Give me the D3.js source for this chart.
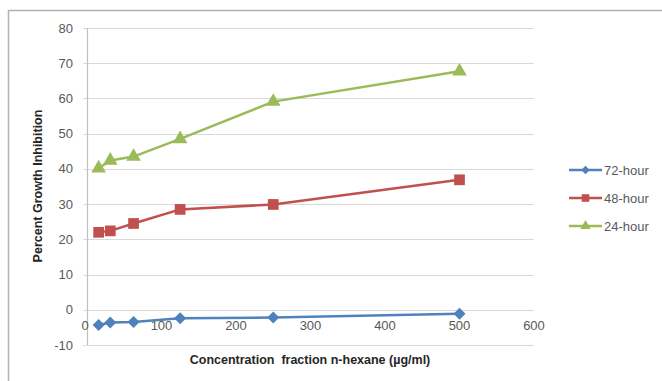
<!DOCTYPE html>
<html>
<head>
<meta charset="utf-8">
<script src="https://cdn.jsdelivr.net/npm/d3@7"></script>
<style>
  html, body { margin: 0; padding: 0; background: #fff; }
  svg { display: block; }
</style>
</head>
<body>
<script>
// ---- data ----
const concentrations = [15.625, 31.25, 62.5, 125, 250, 500];
const seriesNames = ["72-hour", "48-hour", "24-hour"];
const values72 = [-4.3, -3.6, -3.5, -2.4, -2.2, -1.1];
const values48 = [22.0, 22.4, 24.5, 28.5, 29.9, 36.9];
const values24 = [40.2, 42.4, 43.5, 48.5, 59.1, 67.7];
const xTicks = [0, 100, 200, 300, 400, 500, 600];
const yTicks = [-10, 0, 10, 20, 30, 40, 50, 60, 70, 80];

const W = 662, H = 381;
const svg = d3.select("body").append("svg").attr("width", W).attr("height", H);

// outer frame
svg.append("rect").attr("x", 8.5).attr("y", 10.5).attr("width", 700).attr("height", 400)
  .attr("fill", "none").attr("stroke", "#b3b3b3").attr("stroke-width", 1.5);

const x = d3.scaleLinear().domain([0, 600]).range([87, 534]);
const y = d3.scaleLinear().domain([-10, 80]).range([345, 28]);

const font = "'Liberation Sans', Arial, sans-serif";
const tickColor = "#595959";

// gridlines
svg.append("g").selectAll("line").data(yTicks).join("line")
  .attr("x1", 83).attr("x2", x(600))
  .attr("y1", d => Math.round(y(d)) + 0.5).attr("y2", d => Math.round(y(d)) + 0.5)
  .attr("stroke", "#d9d9d9").attr("stroke-width", 1.2);

// y axis line
svg.append("line").attr("x1", 87.5).attr("x2", 87.5).attr("y1", y(80)).attr("y2", y(-10))
  .attr("stroke", "#bfbfbf").attr("stroke-width", 1.2);

// y tick labels
svg.append("g").selectAll("text").data(yTicks).join("text")
  .attr("x", 73).attr("y", d => y(d)).attr("dy", "0.35em")
  .attr("text-anchor", "end").attr("font-family", font).attr("font-size", 13)
  .attr("fill", tickColor).text(d => d);

// x tick labels (axis crosses at 0, labels just below)
svg.append("g").selectAll("text").data(xTicks).join("text")
  .attr("x", d => d === 0 ? x(d) - 2 : x(d)).attr("y", y(0) + 20)
  .attr("text-anchor", "middle").attr("font-family", font).attr("font-size", 13)
  .attr("fill", tickColor).text(d => d);

// axis titles
svg.append("text").attr("x", 310).attr("y", 364).attr("text-anchor", "middle")
  .attr("font-family", font).attr("font-size", 12.5).attr("font-weight", "bold")
  .attr("fill", "#262626").text("Concentration  fraction n-hexane (\u00b5g/ml)")
  .style("white-space", "pre");

svg.append("text").attr("transform", "translate(42,186) rotate(-90)")
  .attr("text-anchor", "middle").attr("font-family", font).attr("font-size", 12.5)
  .attr("font-weight", "bold").attr("fill", "#262626").text("Percent Growth Inhibition");

// series (diamond = square rotated 45deg)
const series = [
  { name: seriesNames[0], values: values72, color: "#4f81bd", symbol: d3.symbolSquare, size: 72, rot: 45 },
  { name: seriesNames[1], values: values48, color: "#c0504d", symbol: d3.symbolSquare, size: 115, rot: 0 },
  { name: seriesNames[2], values: values24, color: "#9bbb59", symbol: d3.symbolTriangle, size: 92, rot: 0 }
];

const line = d3.line().x(d => x(d[0])).y(d => y(d[1]));

series.forEach(s => {
  const pts = concentrations.map((c, i) => [c, s.values[i]]);
  svg.append("path").datum(pts).attr("d", line)
    .attr("fill", "none").attr("stroke", s.color).attr("stroke-width", 2.5);
  svg.append("g").selectAll("path").data(pts).join("path")
    .attr("transform", d => `translate(${x(d[0])},${y(d[1])}) rotate(${s.rot})`)
    .attr("d", d3.symbol().type(s.symbol).size(s.size))
    .attr("fill", s.color);
});

// legend
const legendY = [170, 198, 226];
series.forEach((s, i) => {
  const g = svg.append("g").attr("transform", `translate(569,${legendY[i]})`);
  g.append("line").attr("x1", 0).attr("x2", 33).attr("y1", 0).attr("y2", 0)
    .attr("stroke", s.color).attr("stroke-width", 2.5);
  g.append("path").attr("transform", `translate(16.5,0) rotate(${s.rot})`)
    .attr("d", d3.symbol().type(s.symbol).size(s.size * 0.5)).attr("fill", s.color);
  g.append("text").attr("x", 35).attr("y", 0).attr("dy", "0.35em")
    .attr("font-family", font).attr("font-size", 13).attr("fill", tickColor).text(s.name);
});
</script>
</body>
</html>
